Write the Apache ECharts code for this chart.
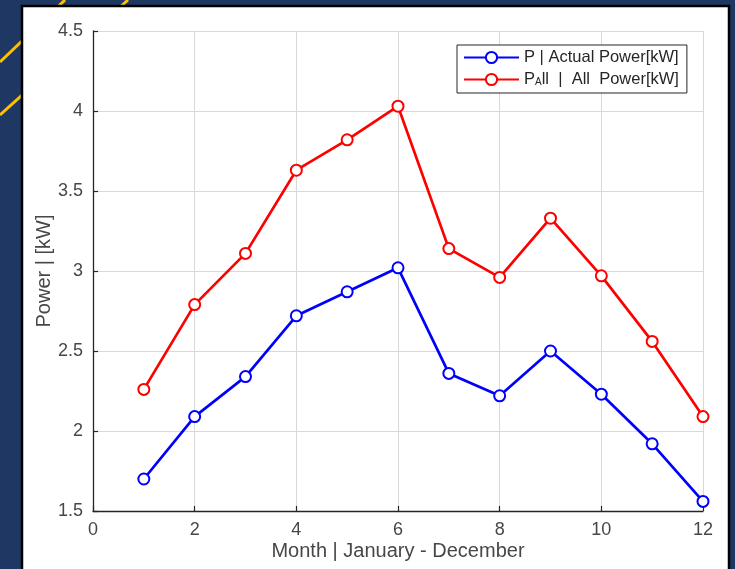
<!DOCTYPE html>
<html>
<head>
<meta charset="utf-8">
<title>Monthly Power</title>
<script src="https://cdn.jsdelivr.net/npm/echarts@6/dist/echarts.min.js"></script>
<style>
  html, body { margin: 0; padding: 0; background: #1f3763; }
  #chart { width: 735px; height: 569px; }
</style>
</head>
<body>
<div id="chart"></div>
<script>
// Monthly values
const months = [1, 2, 3, 4, 5, 6, 7, 8, 9, 10, 11, 12];
const actualPower = [1.70, 2.09, 2.34, 2.72, 2.87, 3.02, 2.36, 2.22, 2.50, 2.23, 1.92, 1.56];
const allPower = [2.26, 2.79, 3.11, 3.63, 3.82, 4.03, 3.14, 2.96, 3.33, 2.97, 2.56, 2.09];

const seriesNames = ['P | Actual Power[kW]', 'PAll | All Power[kW]'];
const xTitle = 'Month | January - December';
const yTitle = 'Power | [kW]';

const FONT = '"Liberation Sans", Arial, Helvetica, sans-serif';
const AXIS_COLOR = '#262626';
const TEXT_COLOR = '#474747';

const chart = echarts.init(document.getElementById('chart'), null, { renderer: 'canvas' });

const pairs = vals => months.map((m, i) => [m, vals[i]]);

const lineSeries = (name, color, vals) => ({
  name: name,
  type: 'line',
  data: pairs(vals),
  symbol: 'emptyCircle',
  symbolSize: 11,
  color: color,
  lineStyle: { color: color, width: 2.7 },
  itemStyle: { color: color, borderColor: color, borderWidth: 2.4 },
  emphasis: { disabled: true },
  z: 3
});

chart.setOption({
  backgroundColor: '#1f3763',
  animation: false,
  textStyle: { fontFamily: FONT },
  graphic: [
    { type: 'line', z: -20, shape: { x1: 0, y1: 62, x2: 65, y2: 0 },
      style: { stroke: '#ffc000', lineWidth: 3 } },
    { type: 'line', z: -20, shape: { x1: 0, y1: 115, x2: 128, y2: 0 },
      style: { stroke: '#ffc000', lineWidth: 3 } },
    { type: 'rect', z: -10, shape: { x: 22, y: 6, width: 707, height: 600 },
      style: { fill: '#ffffff', stroke: '#000000', lineWidth: 2.5 } }
  ],
  grid: { left: 93, right: 32, top: 31, bottom: 58, containLabel: false },
  legend: {
    orient: 'vertical',
    left: 457,
    top: 45,
    padding: [4, 8, 5, 6],
    itemWidth: 55,
    itemHeight: 14,
    itemGap: 5,
    backgroundColor: '#ffffff',
    borderColor: AXIS_COLOR,
    borderWidth: 1,
    borderRadius: 0,
    selectedMode: false,
    data: seriesNames,
    formatter: function (name) {
      if (name === seriesNames[1]) {
        return '{t|P}{sub|A}{t|ll  |  All  Power[kW]}';
      }
      return '{t|' + name + '}';
    },
    textStyle: {
      fontFamily: FONT,
      fontSize: 16.5,
      color: AXIS_COLOR,
      rich: {
        t: { fontFamily: FONT, fontSize: 16.5, color: AXIS_COLOR },
        sub: { fontFamily: FONT, fontSize: 10, color: AXIS_COLOR, verticalAlign: 'bottom', padding: [0, 0, 1, 0] }
      }
    }
  },
  xAxis: {
    type: 'value',
    min: 0,
    max: 12,
    interval: 2,
    name: xTitle,
    nameLocation: 'middle',
    nameGap: 30,
    nameMoveOverlap: false,
    nameTextStyle: { fontFamily: FONT, fontSize: 20, color: TEXT_COLOR },
    axisLine: { show: true, onZero: false, lineStyle: { color: AXIS_COLOR, width: 1.3 } },
    axisTick: { show: true, inside: true, length: 5, lineStyle: { color: AXIS_COLOR, width: 1.2 } },
    axisLabel: { margin: 10, fontFamily: FONT, fontSize: 18, color: TEXT_COLOR },
    splitLine: { show: true, lineStyle: { color: '#d9d9d9', width: 1 } }
  },
  yAxis: {
    type: 'value',
    min: 1.5,
    max: 4.5,
    interval: 0.5,
    name: yTitle,
    nameLocation: 'middle',
    nameGap: 39,
    nameMoveOverlap: false,
    nameTextStyle: { fontFamily: FONT, fontSize: 20, color: TEXT_COLOR },
    axisLine: { show: true, onZero: false, lineStyle: { color: AXIS_COLOR, width: 1.3 } },
    axisTick: { show: true, inside: true, length: 5, lineStyle: { color: AXIS_COLOR, width: 1.2 } },
    axisLabel: { margin: 10, fontFamily: FONT, fontSize: 18, color: TEXT_COLOR },
    splitLine: { show: true, lineStyle: { color: '#d9d9d9', width: 1 } }
  },
  series: [
    lineSeries(seriesNames[0], '#0000ff', actualPower),
    lineSeries(seriesNames[1], '#ff0000', allPower)
  ]
});
</script>
</body>
</html>
